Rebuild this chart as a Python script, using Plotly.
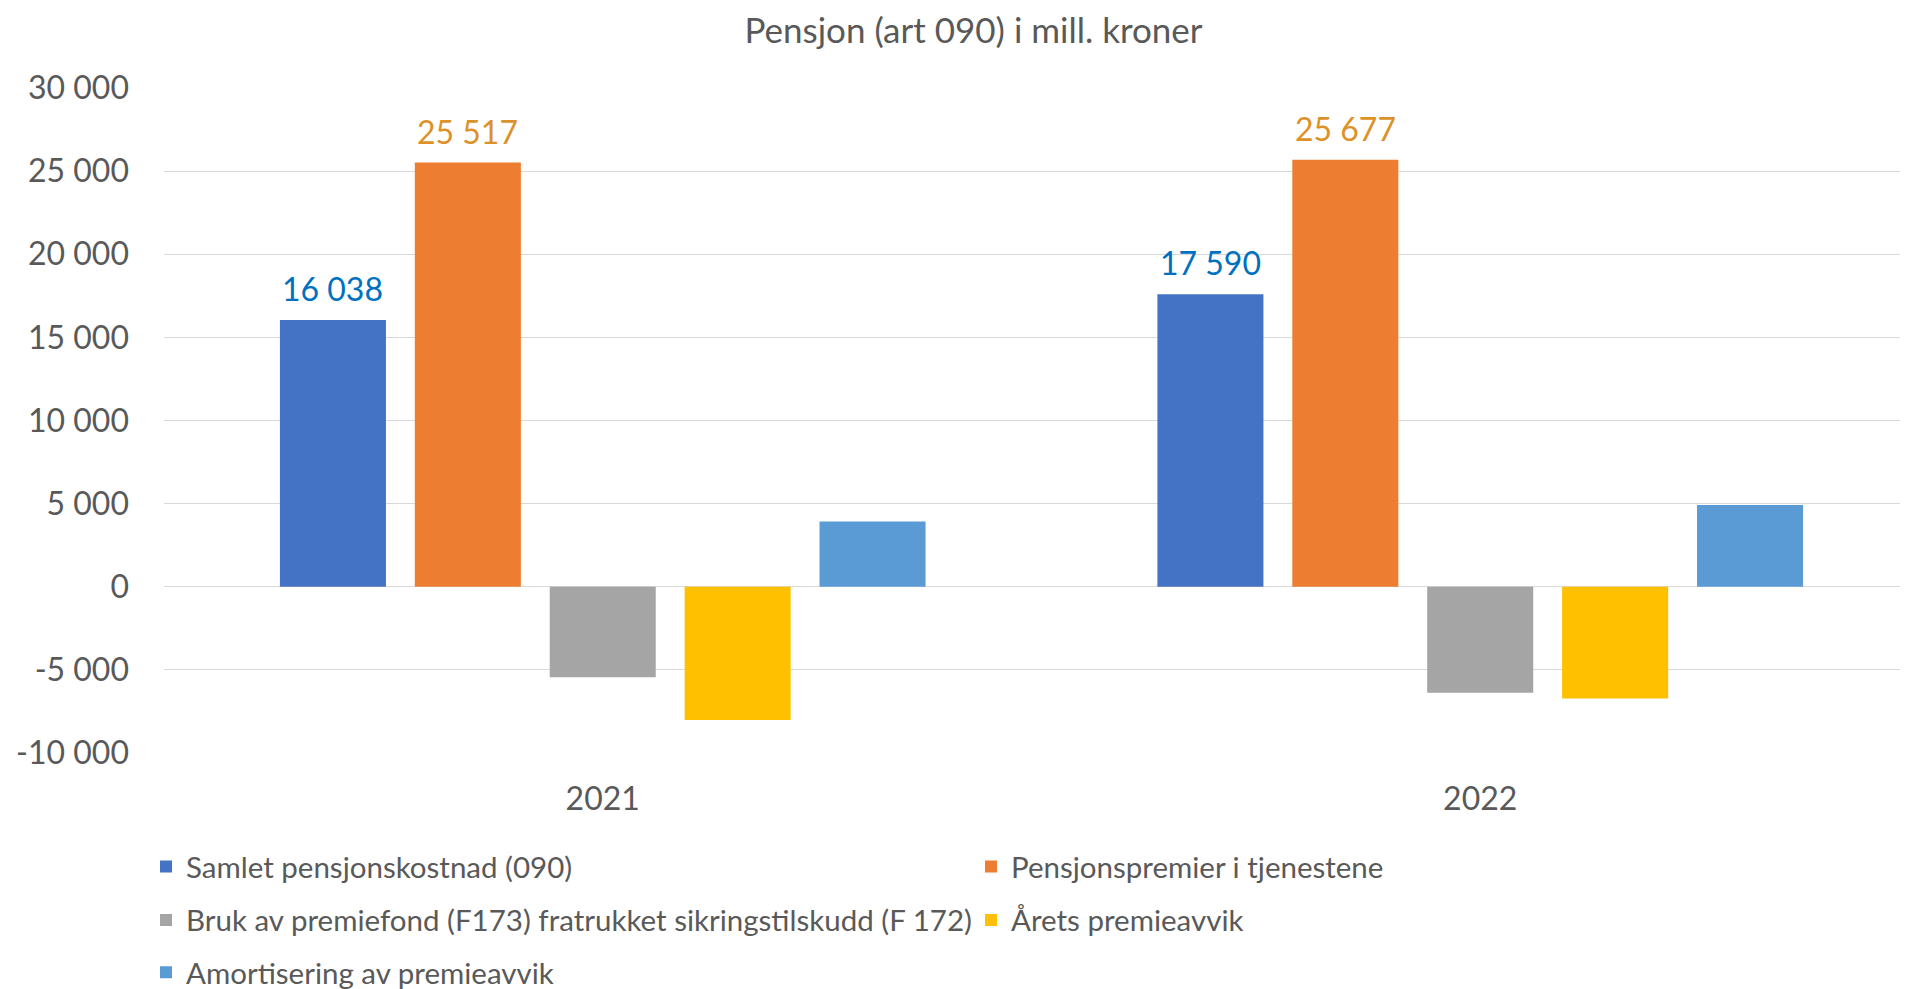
import plotly.graph_objects as go

# ---- data ----
years = ["2021", "2022"]
series_names = [
    "Samlet pensjonskostnad (090)",
    "Pensjonspremier i tjenestene",
    "Bruk av premiefond (F173) fratrukket sikringstilskudd (F 172)",
    "Årets premieavvik",
    "Amortisering av premieavvik",
]
samlet = [16038, 17590]
premier = [25517, 25677]
premiefond = [-5450, -6380]
premieavvik = [-8010, -6720]
amortisering = [3930, 4920]
series_values = [samlet, premier, premiefond, premieavvik, amortisering]

colors = ["#4472C4", "#ED7D31", "#A5A5A5", "#FFC000", "#5B9BD5"]
label_colors = {0: "#0070C0", 1: "#DC9228"}

y_tickvals = [-10000, -5000, 0, 5000, 10000, 15000, 20000, 25000, 30000]
y_ticktext = ["-10 000", "-5 000", "0", "5 000", "10 000", "15 000", "20 000", "25 000", "30 000"]

legend_rows = ["legend", "legend", "legend2", "legend2", "legend3"]

# page has an 8px body margin -> figure is sized to fill the rest of the window
OFF = 8
W, H = 1908 - OFF, 989 - OFF
FONT = "Lato"
TXT = "#595959"
BARGAP = 0.2313
BARGROUPGAP = 0.214


def fmt(v):
    s = f"{abs(v):,}".replace(",", " ")
    return ("-" if v < 0 else "") + s


fig = go.Figure()
for i, (name, vals) in enumerate(zip(series_names, series_values)):
    fig.add_trace(go.Bar(
        x=years, y=vals, name=name,
        marker=dict(color=colors[i], line=dict(width=0)),
        legend=legend_rows[i],
    ))

# data labels for the first two series
n = len(series_names)
pitch = (1 - BARGAP) / n
for k in label_colors:
    for j, v in enumerate(series_values[k]):
        fig.add_annotation(
            x=j + (k - (n - 1) / 2) * pitch, y=v, xref="x", yref="y",
            text=fmt(v), showarrow=False, yanchor="middle", yshift=31.5,
            font=dict(family=FONT, size=32, color=label_colors[k]),
        )

legend_common = dict(
    orientation="h", xref="container", yref="container",
    xanchor="left", yanchor="top",
    font=dict(family=FONT, size=29.5, color=TXT),
    bgcolor="rgba(0,0,0,0)", entrywidth=780, entrywidthmode="pixels",
)
LX = (146 - OFF) / W

fig.update_layout(
    width=W, height=H,
    margin=dict(l=164 - OFF, r=0, t=88 - OFF, b=236, autoexpand=False),
    paper_bgcolor="white", plot_bgcolor="white",
    barmode="group", bargap=BARGAP, bargroupgap=BARGROUPGAP,
    title=dict(
        text="Pensjon (art 090) i mill. kroner",
        x=(973.5 - OFF) / W, xref="container", xanchor="center",
        y=1 - (30.5 - OFF) / H, yref="container", yanchor="middle",
        font=dict(family=FONT, size=35, color=TXT),
    ),
    xaxis=dict(
        type="category", range=[-0.5, 1.4875], showgrid=False,
        showline=False, zeroline=False, ticks="",
        tickfont=dict(family=FONT, size=32, color=TXT),
        ticklabelstandoff=24, automargin=False,
    ),
    yaxis=dict(
        range=[-10000, 30000], tickvals=y_tickvals, ticktext=y_ticktext,
        showgrid=True, gridcolor="#D9D9D9", gridwidth=1.3,
        zeroline=True, zerolinecolor="#D9D9D9", zerolinewidth=1.3,
        showline=False, ticks="",
        tickfont=dict(family=FONT, size=32, color=TXT),
        ticklabelstandoff=34, automargin=False,
    ),
    legend=dict(**legend_common, x=LX, y=1 - (840.8 - OFF) / H),
    legend2=dict(**legend_common, x=LX, y=1 - (894.3 - OFF) / H),
    legend3=dict(**legend_common, x=LX, y=1 - (946.5 - OFF) / H),
    showlegend=True,
)

fig.write_html("out.html")
